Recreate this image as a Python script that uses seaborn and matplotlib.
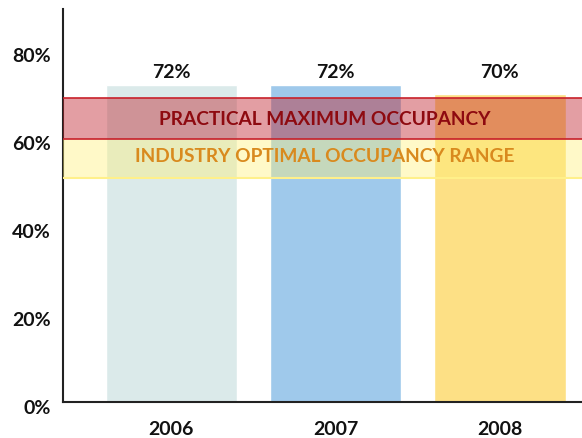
import pandas as pd
import matplotlib.pyplot as plt
import matplotlib.transforms as mtransforms
import seaborn as sns
from matplotlib.ticker import PercentFormatter

# chart data
years = ['2006', '2007', '2008']
occupancy = [72, 72, 70]
bar_colors = ['#dbeaea', '#9fc9eb', '#fde085']
optimal_range = (50.8, 59.8)
practical_max = (59.8, 69.1)

data = pd.DataFrame({'Year': years, 'Occupancy': occupancy})

sns.set_style('white')
plt.rcParams['font.family'] = ['Lato', 'DejaVu Sans']

fig = plt.figure(figsize=(5.82, 4.39), dpi=100)
ax = fig.add_axes([63 / 582, 36 / 439, 519 / 582, 393 / 439])

sns.barplot(x='Year', y='Occupancy', data=data, hue='Year', palette=bar_colors,
            width=0.8, saturation=1, legend=False, ax=ax)

# value labels above bars
for i, v in enumerate(occupancy):
    ax.text(i, 75.2, f'{v}%', ha='center', va='center', fontsize=14, fontweight='bold', color='#111111')

# occupancy bands
ax.axhspan(*optimal_range, facecolor='#fff176', alpha=0.4, edgecolor='none', zorder=3)
ax.axhline(optimal_range[0], color='#fff08a', lw=1.5, zorder=3)
ax.axhspan(*practical_max, facecolor='#c0202a', alpha=0.43, edgecolor='none', zorder=4)
ax.axhline(practical_max[0], color='#c8202a', lw=1.2, zorder=4)
ax.axhline(practical_max[1], color='#c8202a', lw=1.2, zorder=4)

ax.text(0.936, sum(practical_max) / 2, 'PRACTICAL MAXIMUM OCCUPANCY', ha='center', va='center',
        fontsize=13.8, fontweight='bold', color='#8e0a10', zorder=5)
ax.text(0.936, sum(optimal_range) / 2 + 0.6, 'INDUSTRY OPTIMAL OCCUPANCY RANGE', ha='center', va='center',
        fontsize=13.8, fontweight='bold', color='#d98a1e', zorder=5)

ax.set_xlim(-0.66, 2.5)
ax.set_ylim(0, 89.3)
ax.set_yticks([0, 20, 40, 60, 80])
ax.yaxis.set_major_formatter(PercentFormatter(decimals=0))
ax.set_xlabel('')
ax.set_ylabel('')
ax.tick_params(axis='y', length=0, labelsize=14, pad=9, labelcolor='#111111')
ax.tick_params(axis='x', length=0, labelsize=14, pad=13, labelcolor='#111111')
shift = mtransforms.ScaledTranslation(0, -4 / 100, fig.dpi_scale_trans)
for lab in ax.get_yticklabels():
    lab.set_transform(lab.get_transform() + shift)
for lab in ax.get_xticklabels() + ax.get_yticklabels():
    lab.set_fontweight('bold')
ax.spines['top'].set_visible(False)
ax.spines['right'].set_visible(False)
ax.spines['left'].set_color('#222222')
ax.spines['bottom'].set_color('#222222')
ax.spines['left'].set_linewidth(1.5)
ax.spines['bottom'].set_linewidth(1.5)

fig.savefig('out.png', dpi=100)
